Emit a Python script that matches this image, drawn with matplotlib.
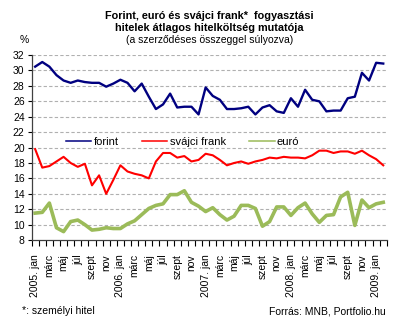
import matplotlib
matplotlib.use('Agg')
import matplotlib.pyplot as plt
from matplotlib.lines import Line2D
import numpy as np

plt.rcParams['font.family'] = ['Liberation Sans', 'DejaVu Sans']

# havi adatok, 2005. jan - 2009. feb
months = ['jan', 'febr', 'márc', 'ápr', 'máj', 'jún', 'júl', 'aug', 'szept', 'okt', 'nov', 'dec']
years = [2005, 2006, 2007, 2008, 2009]
periods = [(y, m) for y in years for m in months][:50]

forint = [30.5, 31.1, 30.5, 29.4, 28.7, 28.4, 28.7, 28.5, 28.4, 28.4,
          27.9, 28.3, 28.8, 28.4, 27.3, 28.3, 26.6, 25.0, 25.6, 27.0,
          25.2, 25.3, 25.3, 24.3, 27.8, 26.7, 26.2, 25.0, 25.0, 25.1,
          25.3, 24.3, 25.2, 25.5, 24.7, 24.5, 26.4, 25.3, 27.5, 26.2,
          26.0, 24.7, 24.8, 24.8, 26.4, 26.6, 29.7, 28.7, 31.0, 30.9]
frank = [19.8, 17.4, 17.6, 18.2, 18.8, 18.0, 17.5, 17.9, 15.1, 16.4,
         14.0, 15.8, 17.7, 16.9, 16.6, 16.4, 16.0, 18.2, 19.3, 19.3,
         18.7, 18.9, 18.2, 18.4, 19.2, 19.0, 18.4, 17.7, 18.0, 18.2,
         17.9, 18.2, 18.4, 18.7, 18.6, 18.8, 18.7, 18.7, 18.6, 19.0,
         19.6, 19.6, 19.3, 19.5, 19.5, 19.2, 19.6, 19.0, 18.5, 17.7]
euro = [11.5, 11.6, 12.8, 9.6, 9.1, 10.4, 10.6, 10.0, 9.3, 9.4,
        9.6, 9.5, 9.5, 10.1, 10.5, 11.3, 12.1, 12.5, 12.7, 13.9,
        13.9, 14.4, 12.9, 12.4, 11.7, 12.2, 11.3, 10.6, 11.1, 12.5,
        12.5, 12.1, 9.8, 10.4, 12.3, 12.3, 11.2, 12.2, 12.8, 11.4,
        10.3, 11.2, 11.3, 13.6, 14.2, 9.9, 13.2, 12.2, 12.7, 12.9]

labels = []
for y, m in periods:
    labels.append(f'{y}. jan' if m == 'jan' else m)

x = np.arange(len(periods))

fig = plt.figure(figsize=(4.0, 3.24), dpi=100)
ax = fig.add_axes([0.079, 0.259, 0.888, 0.571])

ax.plot(x, forint, color='#000080', lw=1.7, label='forint')
ax.plot(x, frank, color='#FF0000', lw=1.5, label='svájci frank')
ax.plot(x, euro, color='#9BBB59', lw=2.6, label='euró')

ax.set_xlim(-0.5, len(x) - 0.5)
ax.set_ylim(8, 32)
ax.set_yticks(np.arange(8, 33, 2))
ax.tick_params(axis='y', labelsize=7.5, length=3, width=0.8, pad=2)
for v in np.arange(10, 33, 2):
    ax.axhline(v, color='#B0B0B0', lw=0.8, ls=(0, (3, 2)), zorder=0)

ax.set_xticks(x[::2])
ax.set_xticklabels(labels[::2], rotation=90, fontsize=7.5, va='top')
ax.set_xticks(np.arange(-0.5, len(x)), minor=True)
ax.tick_params(axis='x', which='major', length=0, pad=10)
ax.tick_params(axis='x', which='minor', length=4, width=0.8)

for s in ['top', 'right']:
    ax.spines[s].set_visible(False)
for s in ['left', 'bottom']:
    ax.spines[s].set_color('#404040')
    ax.spines[s].set_linewidth(0.9)

handles = [Line2D([], [], color='#000080', lw=1.1),
           Line2D([], [], color='#FF0000', lw=1.1),
           Line2D([], [], color='#9BBB59', lw=1.1)]
ax.legend(handles, ['forint', 'svájci frank', 'euró'], ncol=3, frameon=False,
          fontsize=8, loc='center', bbox_to_anchor=(0.425, 0.53),
          handlelength=2.3, handletextpad=0.2, columnspacing=2.1)

fig.text(0.523, 0.952, 'Forint, euró és svájci frank*  fogyasztási', ha='center',
         va='center', fontsize=7.8, fontweight='bold')
fig.text(0.523, 0.915, 'hitelek átlagos hitelköltség mutatója', ha='center',
         va='center', fontsize=7.8, fontweight='bold')
fig.text(0.523, 0.876, '(a szerződéses összeggel súlyozva)', ha='center',
         va='center', fontsize=7.5)
fig.text(0.06, 0.876, '%', ha='center', va='center', fontsize=7.5)

fig.text(0.055, 0.04, '*: személyi hitel', ha='left', va='center', fontsize=7.5)
fig.text(0.965, 0.04, 'Forrás: MNB, Portfolio.hu', ha='right', va='center', fontsize=7.5)

fig.savefig('out.png', dpi=100)
